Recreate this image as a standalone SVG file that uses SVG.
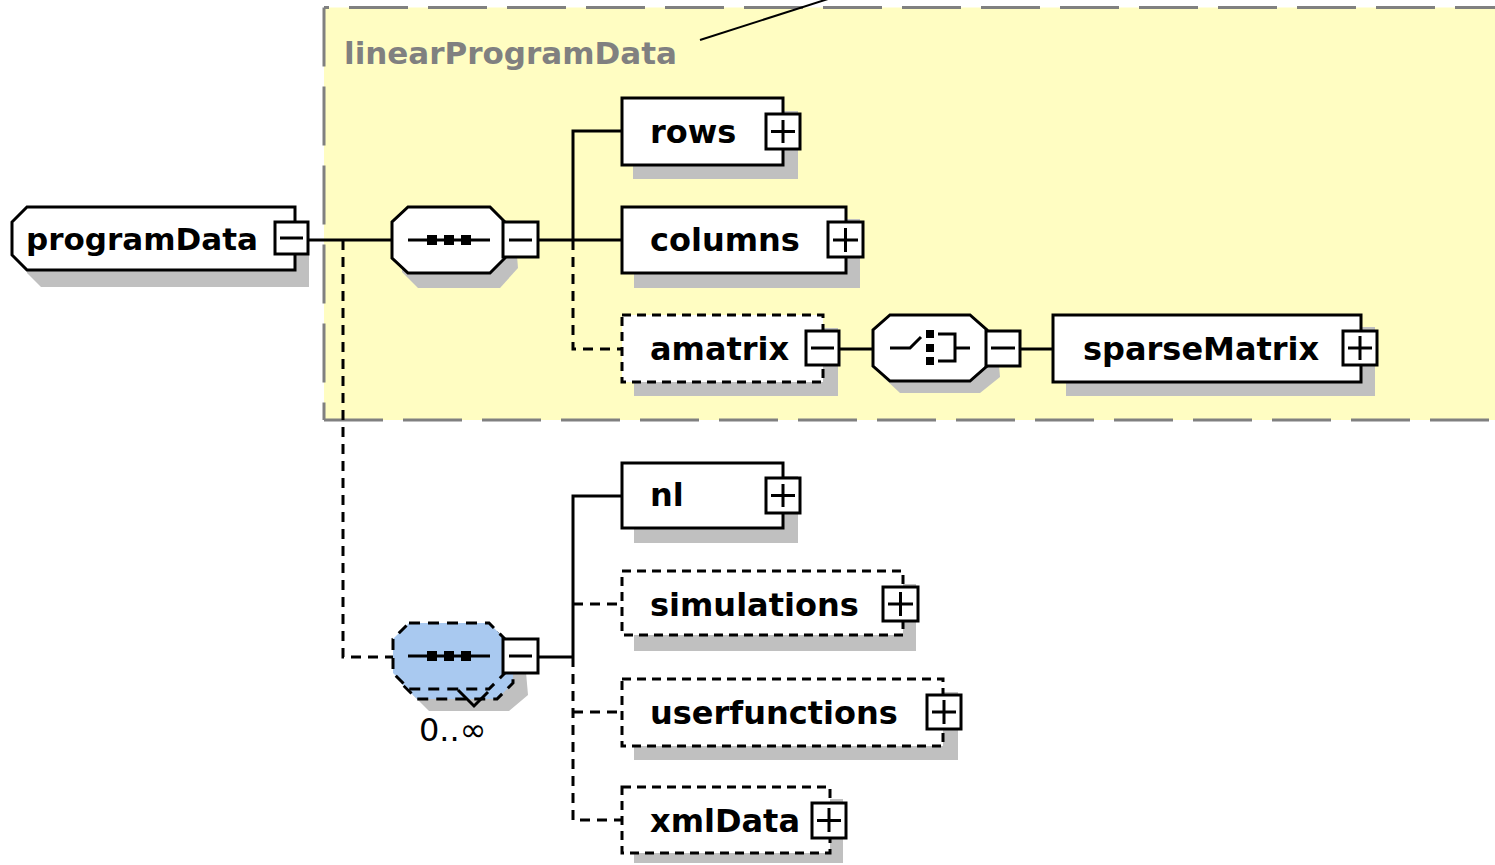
<svg xmlns="http://www.w3.org/2000/svg" width="1495" height="865" viewBox="0 0 1495 865">
<style>
.lbl{font-family:"DejaVu Sans","Verdana",sans-serif;font-weight:bold;font-size:32px;fill:#000}
.grp{font-family:"DejaVu Sans","Verdana",sans-serif;font-weight:bold;font-size:31px;fill:#808080}
.occ{font-family:"DejaVu Sans","Verdana",sans-serif;font-size:32px;fill:#000}
.box{fill:#fff;stroke:#000;stroke-width:3}
.dbox{fill:#fff;stroke:#000;stroke-width:3;stroke-dasharray:9 6}
.sh{fill:#c0c0c0;stroke:none}
.btn{fill:#fff;stroke:#000;stroke-width:3}
.sign{stroke:#000;stroke-width:3;fill:none}
.ln{stroke:#000;stroke-width:3;fill:none}
.dln{stroke:#000;stroke-width:3;fill:none;stroke-dasharray:10 7}
.bd{stroke:#808080;stroke-width:3;fill:none;stroke-dasharray:59 20}
</style>
<rect x="0" y="0" width="1495" height="865" fill="#fff"/>
<g id="linearProgramData">
<rect x="324" y="7.5" width="1180" height="412.5" fill="#fffdc2"/>
<line class="bd" x1="324" y1="7.5" x2="1500" y2="7.5" stroke-dashoffset="54"/>
<line class="bd" x1="324" y1="7.5" x2="324" y2="420"/>
<line class="bd" x1="324" y1="420" x2="1500" y2="420"/>
<text class="grp" x="344" y="64">linearProgramData</text>
<line x1="700" y1="40" x2="828" y2="-1" stroke="#000" stroke-width="2"/>
</g>
<g id="connectors">
<line class="ln" x1="308" y1="240" x2="392" y2="240"/>
<polyline class="dln" points="343,240 343,657 393,657"/>
<line class="ln" x1="538" y1="240" x2="622" y2="240"/>
<polyline class="ln" points="573,240 573,131 622,131"/>
<polyline class="dln" points="573,240 573,349 622,349"/>
<line class="ln" x1="840" y1="349" x2="873" y2="349"/>
<line class="ln" x1="1020" y1="349" x2="1053" y2="349"/>
<line class="ln" x1="538" y1="657" x2="573" y2="657"/>
<polyline class="ln" points="573,657 573,496 622,496"/>
<polyline class="dln" points="573,657 573,820 622,820"/>
<line class="dln" x1="573" y1="604" x2="622" y2="604"/>
<line class="dln" x1="573" y1="712" x2="622" y2="712"/>
</g>
<g id="programData">
<polygon class="sh" points="41,222 309,222 309,287 41,287 27,273 27,237"/>
<polygon class="box" points="27,207 295,207 295,270 27,270 12,255 12,222"/>
<text class="lbl" x="26" y="250" style="font-size:31px">programData</text>
<rect class="btn" x="275" y="222" width="33" height="32"/>
<line class="sign" x1="280" y1="238" x2="303" y2="238"/>
</g>
<g id="sequence1">
<polygon class="sh" points="418,217 500,217 515,232 518,268 500,288 418,288 402,272 402,232"/>
<polygon class="box" points="408,207 490,207 505,222 505,258 490,273 408,273 392,258 392,222"/>
<line class="ln" x1="408" y1="240" x2="490" y2="240"/>
<rect x="427" y="235" width="10" height="10" fill="#000"/>
<rect x="444" y="235" width="10" height="10" fill="#000"/>
<rect x="461" y="235" width="10" height="10" fill="#000"/>
<rect class="btn" x="503" y="222" width="35" height="35"/>
<line class="sign" x1="509" y1="240" x2="532" y2="240"/>
</g>
<g id="rows">
<rect class="sh" x="633" y="111" width="165" height="68"/>
<rect class="box" x="622" y="98" width="161" height="67"/>
<text class="lbl" x="650" y="143">rows</text>
<rect class="btn" x="766" y="114" width="34" height="35"/>
<path class="sign" d="M771,131.5H795M783,120V143"/>
</g>
<g id="columns">
<rect class="sh" x="634" y="219" width="226" height="69"/>
<rect class="box" x="622" y="207" width="224" height="66"/>
<text class="lbl" x="650" y="251">columns</text>
<rect class="btn" x="828" y="222" width="35" height="35"/>
<path class="sign" d="M833,240H858M845.5,228V252"/>
</g>
<g id="amatrix">
<rect class="sh" x="634" y="328" width="204" height="68"/>
<rect class="dbox" x="622" y="315" width="201" height="67"/>
<text class="lbl" x="650" y="360">amatrix</text>
<rect class="btn" x="806" y="331" width="33" height="34"/>
<line class="sign" x1="811" y1="348" x2="834" y2="348"/>
</g>
<g id="choice">
<polygon class="sh" points="900,326 980,326 997,341 1000,377 980,393 900,393 883,377 883,341"/>
<polygon class="box" points="890,315 970,315 987,330 987,366 970,381 890,381 873,366 873,330"/>
<polyline class="ln" points="890,348 910,348 921,337"/>
<rect x="926" y="330" width="8" height="8" fill="#000"/>
<rect x="926" y="344" width="8" height="8" fill="#000"/>
<rect x="926" y="357" width="8" height="8" fill="#000"/>
<polyline class="ln" points="938,334 955,334 955,361 938,361"/>
<line class="ln" x1="955" y1="348" x2="970" y2="348"/>
<rect class="btn" x="986" y="331" width="34" height="35"/>
<line class="sign" x1="991" y1="348" x2="1015" y2="348"/>
</g>
<g id="sparseMatrix">
<rect class="sh" x="1066" y="327" width="309" height="69"/>
<rect class="box" x="1053" y="315" width="308" height="67"/>
<text class="lbl" x="1083" y="360">sparseMatrix</text>
<rect class="btn" x="1343" y="331" width="34" height="34"/>
<path class="sign" d="M1348,348H1372M1360,336V360"/>
</g>
<g id="sequence2">
<polygon class="sh" points="429,645 509,645 525,661 528,695 509,711 429,711 413,695 413,661"/>
<polygon points="417,633 497,633 513,649 513,683 497,699 417,699 401,683 401,649" fill="#a9c9f0" stroke="#000" stroke-width="3" stroke-dasharray="11 8"/>
<polygon points="409,623 489,623 505,639 505,673 489,689 409,689 393,673 393,639" fill="#a9c9f0" stroke="#000" stroke-width="3" stroke-dasharray="11 8"/>
<polyline class="ln" points="458,690 474,706 488,692" stroke-width="2"/>
<line class="ln" x1="408" y1="656" x2="490" y2="656"/>
<rect x="427" y="651" width="10" height="10" fill="#000"/>
<rect x="444" y="651" width="10" height="10" fill="#000"/>
<rect x="461" y="651" width="10" height="10" fill="#000"/>
<rect class="btn" x="503" y="639" width="35" height="34"/>
<line class="sign" x1="509" y1="656" x2="532" y2="656"/>
<text class="occ" x="419" y="741">0..∞</text>
</g>
<g id="nl">
<rect class="sh" x="634" y="476" width="164" height="67"/>
<rect class="box" x="622" y="463" width="161" height="65"/>
<text class="lbl" x="650" y="506">nl</text>
<rect class="btn" x="766" y="478" width="34" height="35"/>
<path class="sign" d="M771,495.5H795M783,484V507"/>
</g>
<g id="simulations">
<rect class="sh" x="634" y="584" width="282" height="67"/>
<rect class="dbox" x="622" y="571" width="281" height="64"/>
<text class="lbl" x="650" y="616">simulations</text>
<rect class="btn" x="883" y="587" width="35" height="34"/>
<path class="sign" d="M888,604H913M900.5,592V616"/>
</g>
<g id="userfunctions">
<rect class="sh" x="634" y="692" width="324" height="68"/>
<rect class="dbox" x="622" y="679" width="321" height="67"/>
<text class="lbl" x="650" y="724">userfunctions</text>
<rect class="btn" x="927" y="695" width="34" height="34"/>
<path class="sign" d="M932,712H956M944,700V724"/>
</g>
<g id="xmlData">
<rect class="sh" x="634" y="799" width="209" height="64"/>
<rect class="dbox" x="622" y="787" width="208" height="66"/>
<text class="lbl" x="650" y="832">xmlData</text>
<rect class="btn" x="812" y="803" width="34" height="35"/>
<path class="sign" d="M817,820.5H841M829,808V832"/>
</g>
</svg>
